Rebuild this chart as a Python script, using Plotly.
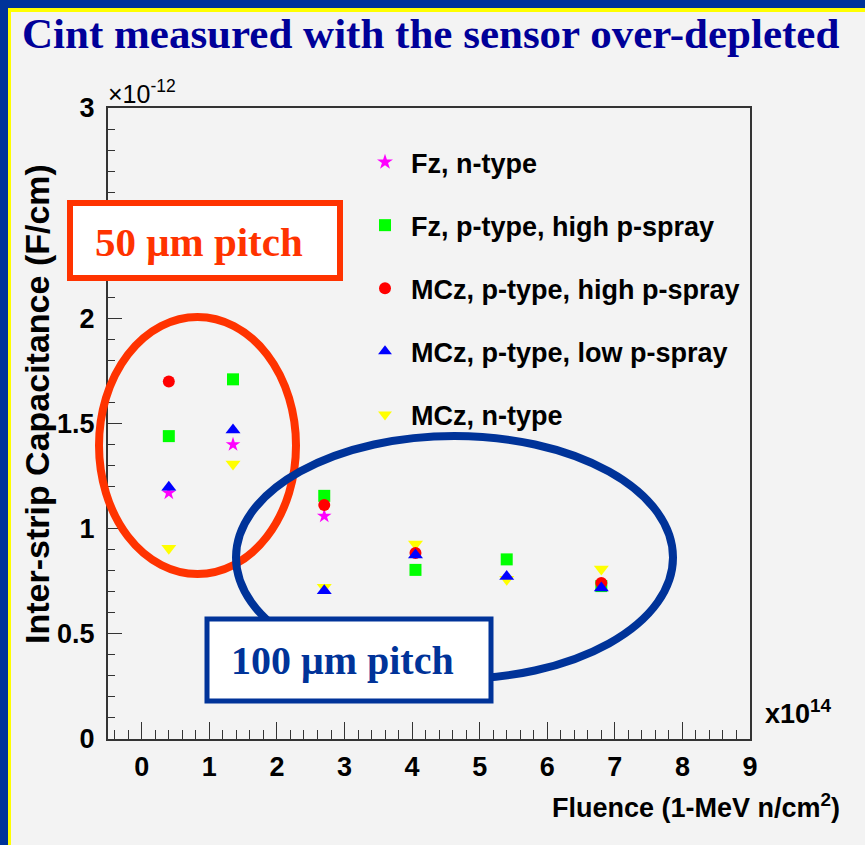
import plotly.graph_objects as go

# ---------------- data (x in 1e14 n/cm^2, y in 1e-12 F/cm) ----------------
fz_n_x = [0.40, 1.35, 2.70]
fz_n_y = [1.17, 1.40, 1.06]

fz_p_high_x = [0.40, 1.35, 2.70, 4.05, 5.40, 6.80]
fz_p_high_y = [1.44, 1.71, 1.156, 0.804, 0.854, 0.727]

mcz_p_high_x = [0.40, 2.70, 4.05, 6.80]
mcz_p_high_y = [1.70, 1.113, 0.884, 0.742]

mcz_p_low_x = [0.40, 1.35, 2.70, 4.05, 5.40, 6.80]
mcz_p_low_y = [1.197, 1.469, 0.705, 0.875, 0.772, 0.718]

mcz_n_x = [0.40, 1.35, 2.70, 4.05, 5.40, 6.80]
mcz_n_y = [0.907, 1.308, 0.721, 0.927, 0.759, 0.808]

legend_names = ["Fz, n-type", "Fz, p-type, high p-spray", "MCz, p-type, high p-spray",
                "MCz, p-type, low p-spray", "MCz, n-type"]
y_ticks = [0, 0.5, 1, 1.5, 2, 2.5, 3]
y_ticktext = ["0", "0.5", "1", "1.5", "2", "", "3"]   # 2.5 label is hidden behind the box in the original
x_ticks = list(range(0, 10))

# ---------------- geometry helpers (pixels -> paper) ----------------
W_FIG, H_FIG = 865, 845
L, R, T, B = 108, 750, 108, 739
def px(x):
    return (x - L) / (R - L)
def py(y):
    return (B - y) / (B - T)

NARROW = "Liberation Sans Narrow, Liberation Sans, Arial, sans-serif"
SANS = "Liberation Sans, Arial, sans-serif"
SERIF = "Liberation Serif, Times New Roman, serif"

fig = go.Figure()

series = [
    (fz_n_x, fz_n_y, legend_names[0], "#ff00ff", "star", 11, 1),
    (fz_p_high_x, fz_p_high_y, legend_names[1], "#00ff00", "square", 12, 2),
    (mcz_n_x, mcz_n_y, legend_names[4], "#ffff00", "triangle-down", 13, 5),
    (mcz_p_high_x, mcz_p_high_y, legend_names[2], "#ff0000", "circle", 12, 3),
    (mcz_p_low_x, mcz_p_low_y, legend_names[3], "#0000ff", "triangle-up", 13, 4),
]
for xs, ys, name, col, sym, size, rank in series:
    fig.add_trace(go.Scatter(
        x=xs, y=ys, mode="markers", name=name, legendgroup=name, legendrank=rank,
        marker=dict(color=col, symbol=sym, size=size, line=dict(width=0)),
    ))

shapes = []
# slide borders
shapes.append(dict(type="rect", xref="paper", yref="paper", x0=px(0), x1=px(8), y0=py(845), y1=py(0),
                   fillcolor="#003399", line=dict(width=0), layer="above"))
shapes.append(dict(type="rect", xref="paper", yref="paper", x0=px(8), x1=px(11), y0=py(845), y1=py(8),
                   fillcolor="#ffff00", line=dict(width=0), layer="above"))
shapes.append(dict(type="rect", xref="paper", yref="paper", x0=px(0), x1=px(865), y0=py(8), y1=py(0),
                   fillcolor="#003399", line=dict(width=0), layer="above"))
shapes.append(dict(type="rect", xref="paper", yref="paper", x0=px(8), x1=px(865), y0=py(12), y1=py(8),
                   fillcolor="#ffff00", line=dict(width=0), layer="above"))
# ellipses
shapes.append(dict(type="circle", xref="paper", yref="paper", x0=px(99), x1=px(296), y0=py(574), y1=py(317),
                   line=dict(color="#ff3300", width=8), layer="above"))
shapes.append(dict(type="circle", xref="paper", yref="paper", x0=px(236), x1=px(673), y0=py(679), y1=py(436),
                   line=dict(color="#003399", width=8), layer="above"))
# label boxes
shapes.append(dict(type="rect", xref="paper", yref="paper", x0=px(70), x1=px(340), y0=py(278), y1=py(203),
                   fillcolor="#ffffff", line=dict(color="#ff3300", width=6), layer="above"))
shapes.append(dict(type="rect", xref="paper", yref="paper", x0=px(207), x1=px(491), y0=py(701), y1=py(619),
                   fillcolor="#ffffff", line=dict(color="#003399", width=5), layer="above"))

annotations = [
    dict(text="<b>Cint measured with the sensor over-depleted</b>", xref="paper", yref="paper",
         x=px(20), y=py(33), xanchor="left", yanchor="middle", showarrow=False,
         font=dict(family=SERIF, size=43, color="#000099")),
    dict(text="50 μm pitch", xref="paper", yref="paper", x=px(199), y=py(242),
         xanchor="center", yanchor="middle", showarrow=False,
         font=dict(family=SERIF, size=41, color="#ff3300", weight="bold")),
    dict(text="100 μm pitch", xref="paper", yref="paper", x=px(342), y=py(660),
         xanchor="center", yanchor="middle", showarrow=False,
         font=dict(family=SERIF, size=40, color="#003399", weight="bold")),
    dict(text="×10<sup>-12</sup>", xref="paper", yref="paper", x=px(106), y=py(92),
         xanchor="left", yanchor="middle", showarrow=False,
         font=dict(family=NARROW, size=25, color="#000000")),
    dict(text="x10<sup>14</sup>", xref="paper", yref="paper", x=px(763), y=py(712),
         xanchor="left", yanchor="middle", showarrow=False,
         font=dict(family=NARROW, size=27, color="#000000", weight="bold")),
    dict(text="Fluence (1-MeV n/cm<sup>2</sup>)", xref="paper", yref="paper", x=px(842), y=py(806),
         xanchor="right", yanchor="middle", showarrow=False,
         font=dict(family=NARROW, size=27, color="#000000", weight="bold")),
    dict(text="Inter-strip Capacitance (F/cm)", xref="paper", yref="paper", x=px(37), y=py(404),
         xanchor="center", yanchor="middle", textangle=-90, showarrow=False,
         font=dict(family=SANS, size=34, color="#000000", weight="bold")),
]

fig.update_layout(
    width=W_FIG, height=H_FIG, autosize=False,
    margin=dict(l=L, r=W_FIG - R, t=T, b=H_FIG - B, pad=0),
    paper_bgcolor="#f3f3f3", plot_bgcolor="#f3f3f3",
    shapes=shapes, annotations=annotations,
    showlegend=True,
    legend=dict(x=px(359), y=py(138), xanchor="left", yanchor="top",
                bgcolor="rgba(0,0,0,0)", borderwidth=0, tracegroupgap=25, itemwidth=42,
                font=dict(family=NARROW, size=27, color="#000000", weight="bold"),
                itemsizing="constant"),
    xaxis=dict(range=[-0.5, 9], tickvals=x_ticks, ticktext=[str(v) for v in x_ticks],
               ticks="inside", ticklen=17, tickwidth=1.2, tickcolor="#333",
               showline=True, linecolor="#333", linewidth=2, mirror=True,
               showgrid=False, zeroline=False, ticklabelstandoff=3,
               tickfont=dict(family=NARROW, size=27, color="#000000", weight="bold"),
               minor=dict(dtick=0.2, tick0=0, ticks="inside", ticklen=9, tickwidth=1.2, tickcolor="#333")),
    yaxis=dict(range=[0, 3], tickvals=y_ticks, ticktext=y_ticktext,
               ticks="inside", ticklen=14, tickwidth=1.2, tickcolor="#333",
               showline=True, linecolor="#333", linewidth=2, mirror=True,
               showgrid=False, zeroline=False, ticklabelstandoff=6,
               tickfont=dict(family=NARROW, size=27, color="#000000", weight="bold"),
               minor=dict(dtick=0.1, tick0=0, ticks="inside", ticklen=7, tickwidth=1.2, tickcolor="#333")),
)

fig.write_html("out.html")
